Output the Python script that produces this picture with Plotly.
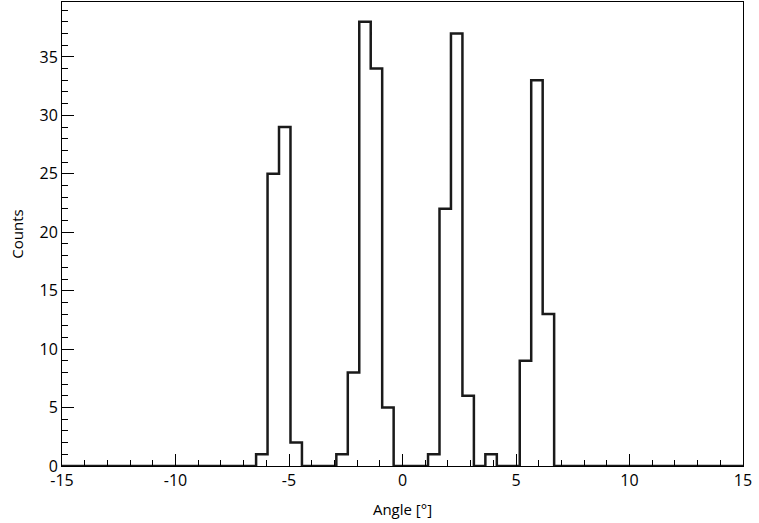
import plotly.graph_objects as go

# histogram of angles, 26 filled bins
bin_start = -6.45
bin_width = 0.505
counts = [1, 25, 29, 2, 0, 0, 0, 1, 8, 38, 34, 5, 0, 0, 0,
          1, 22, 37, 6, 0, 1, 0, 0, 9, 33, 13]
x_range = [-15, 15]
y_range = [0, 39.7]
x_ticks = [-15, -10, -5, 0, 5, 10, 15]
y_ticks = [0, 5, 10, 15, 20, 25, 30, 35]

# step outline: flat at zero outside the filled bins
xs = [x_range[0]]
ys = [0]
for i, c in enumerate(counts):
  xs.append(bin_start + i * bin_width)
  ys.append(c)
xs.append(bin_start + len(counts) * bin_width)
ys.append(0)
xs.append(x_range[1])
ys.append(0)

fig = go.Figure(go.Scatter(x=xs, y=ys, mode='lines', line=dict(shape='hv', color='#1a1a1a', width=2.5),
                           cliponaxis=False))

axis_common = dict(showline=True, linecolor='black', linewidth=1, mirror=True, showgrid=False,
                   zeroline=False, ticks='inside', ticklen=12, tickcolor='black', automargin=False,
                   tickfont=dict(size=16, color='black'))
fig.update_xaxes(range=x_range, tickvals=x_ticks, ticktext=[str(t) for t in x_ticks],
                 title=dict(text='Angle [°]', font=dict(size=15, color='black'), standoff=14),
                 minor=dict(ticks='inside', ticklen=6, dtick=1, tickcolor='black'), **axis_common)
fig.update_yaxes(range=y_range, tickvals=y_ticks, ticktext=[str(t) for t in y_ticks],
                 title=dict(text='Counts', font=dict(size=15, color='black'), standoff=12),
                 minor=dict(ticks='inside', ticklen=6, dtick=1, tickcolor='black'), **axis_common)
fig.update_layout(width=759, height=523, plot_bgcolor='white', paper_bgcolor='white',
                  margin=dict(l=62, r=16, t=2, b=57, autoexpand=False), showlegend=False,
                  font=dict(family='Open Sans', color='black'))
fig.write_html("out.html", config={'displayModeBar': False})

# drop the default page margin so the figure sits at the window corner
with open("out.html") as f:
  page = f.read()
page = page.replace("<body>", '<body style="margin:0">', 1)
with open("out.html", "w") as f:
  f.write(page)
